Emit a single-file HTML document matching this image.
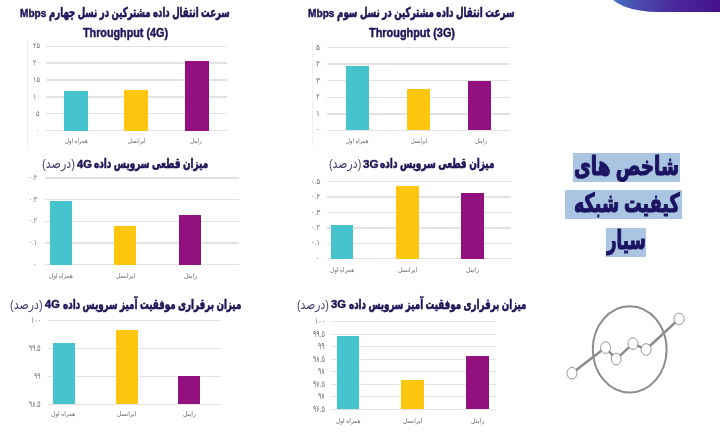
<!DOCTYPE html>
<html lang="fa">
<head>
<meta charset="utf-8">
<title>شاخص های کیفیت شبکه سیار</title>
<style>
html,body{margin:0;padding:0;background:#fff}
body{width:720px;height:439px;position:relative;overflow:hidden;font-family:"Liberation Sans","DejaVu Sans",sans-serif}
.t{position:absolute;white-space:nowrap;line-height:1;transform-origin:0 50%}
</style>
</head>
<body>
<div style="position:absolute;left:609px;top:-30px;width:140px;height:42.3px;border-bottom-left-radius:50px 20px;background:linear-gradient(90deg,#4178c6 0%,#4a4aae 22%,#49279a 48%,#45128a 80%,#440f88 100%)"></div>
<div style="position:absolute;left:46.30px;top:45.50px;width:180.70px;height:1.40px;background:#e2e2e2"></div>
<div style="position:absolute;left:46.30px;top:62.40px;width:180.70px;height:1.40px;background:#e2e2e2"></div>
<div style="position:absolute;left:46.30px;top:79.30px;width:180.70px;height:1.40px;background:#e2e2e2"></div>
<div style="position:absolute;left:46.30px;top:96.20px;width:180.70px;height:1.40px;background:#e2e2e2"></div>
<div style="position:absolute;left:46.30px;top:113.10px;width:180.70px;height:1.40px;background:#e2e2e2"></div>
<div style="position:absolute;left:46.30px;top:130.00px;width:180.70px;height:1.40px;background:#e2e2e2"></div>
<div style="position:absolute;left:64.20px;top:91.00px;width:23.60px;height:39.70px;background:#46c4ce"></div>
<div style="position:absolute;left:124.20px;top:89.50px;width:24.00px;height:41.20px;background:#fec70f"></div>
<div style="position:absolute;left:184.50px;top:60.70px;width:24.00px;height:70.00px;background:#92117e"></div>
<div style="position:absolute;left:27.30px;top:39.00px;width:1.00px;height:111.00px;background:#f0f0f0"></div>
<div style="position:absolute;left:45.00px;top:177.30px;width:193.70px;height:1.40px;background:#e2e2e2"></div>
<div style="position:absolute;left:45.00px;top:199.00px;width:193.70px;height:1.40px;background:#e2e2e2"></div>
<div style="position:absolute;left:45.00px;top:220.70px;width:193.70px;height:1.40px;background:#e2e2e2"></div>
<div style="position:absolute;left:45.00px;top:242.40px;width:193.70px;height:1.40px;background:#e2e2e2"></div>
<div style="position:absolute;left:45.00px;top:264.00px;width:193.70px;height:1.40px;background:#e2e2e2"></div>
<div style="position:absolute;left:49.50px;top:201.20px;width:22.50px;height:63.50px;background:#46c4ce"></div>
<div style="position:absolute;left:113.70px;top:225.50px;width:22.50px;height:39.20px;background:#fec70f"></div>
<div style="position:absolute;left:179.20px;top:215.00px;width:22.30px;height:49.70px;background:#92117e"></div>
<div style="position:absolute;left:47.50px;top:319.60px;width:173.70px;height:1.40px;background:#e2e2e2"></div>
<div style="position:absolute;left:47.50px;top:347.60px;width:173.70px;height:1.40px;background:#e2e2e2"></div>
<div style="position:absolute;left:47.50px;top:375.60px;width:173.70px;height:1.40px;background:#e2e2e2"></div>
<div style="position:absolute;left:47.50px;top:403.60px;width:173.70px;height:1.40px;background:#e2e2e2"></div>
<div style="position:absolute;left:52.50px;top:342.70px;width:22.00px;height:61.60px;background:#46c4ce"></div>
<div style="position:absolute;left:116.00px;top:330.00px;width:21.80px;height:74.30px;background:#fec70f"></div>
<div style="position:absolute;left:178.00px;top:375.70px;width:22.00px;height:28.60px;background:#92117e"></div>
<div style="position:absolute;left:327.00px;top:46.80px;width:183.00px;height:1.40px;background:#e2e2e2"></div>
<div style="position:absolute;left:327.00px;top:63.40px;width:183.00px;height:1.40px;background:#e2e2e2"></div>
<div style="position:absolute;left:327.00px;top:80.00px;width:183.00px;height:1.40px;background:#e2e2e2"></div>
<div style="position:absolute;left:327.00px;top:96.60px;width:183.00px;height:1.40px;background:#e2e2e2"></div>
<div style="position:absolute;left:327.00px;top:113.20px;width:183.00px;height:1.40px;background:#e2e2e2"></div>
<div style="position:absolute;left:327.00px;top:129.70px;width:183.00px;height:1.40px;background:#e2e2e2"></div>
<div style="position:absolute;left:345.70px;top:66.20px;width:23.50px;height:64.20px;background:#46c4ce"></div>
<div style="position:absolute;left:407.00px;top:88.70px;width:23.00px;height:41.70px;background:#fec70f"></div>
<div style="position:absolute;left:468.00px;top:81.30px;width:22.50px;height:49.10px;background:#92117e"></div>
<div style="position:absolute;left:311.50px;top:39.00px;width:1.00px;height:107.00px;background:#f0f0f0"></div>
<div style="position:absolute;left:327.00px;top:181.00px;width:184.00px;height:1.40px;background:#e2e2e2"></div>
<div style="position:absolute;left:327.00px;top:196.40px;width:184.00px;height:1.40px;background:#e2e2e2"></div>
<div style="position:absolute;left:327.00px;top:211.80px;width:184.00px;height:1.40px;background:#e2e2e2"></div>
<div style="position:absolute;left:327.00px;top:227.20px;width:184.00px;height:1.40px;background:#e2e2e2"></div>
<div style="position:absolute;left:327.00px;top:242.60px;width:184.00px;height:1.40px;background:#e2e2e2"></div>
<div style="position:absolute;left:327.00px;top:258.10px;width:184.00px;height:1.40px;background:#e2e2e2"></div>
<div style="position:absolute;left:330.70px;top:225.00px;width:22.50px;height:33.80px;background:#46c4ce"></div>
<div style="position:absolute;left:395.50px;top:186.20px;width:23.20px;height:72.60px;background:#fec70f"></div>
<div style="position:absolute;left:461.20px;top:192.50px;width:22.50px;height:66.30px;background:#92117e"></div>
<div style="position:absolute;left:331.00px;top:321.00px;width:164.70px;height:1.40px;background:#e2e2e2"></div>
<div style="position:absolute;left:331.00px;top:333.50px;width:164.70px;height:1.40px;background:#e2e2e2"></div>
<div style="position:absolute;left:331.00px;top:346.00px;width:164.70px;height:1.40px;background:#e2e2e2"></div>
<div style="position:absolute;left:331.00px;top:358.50px;width:164.70px;height:1.40px;background:#e2e2e2"></div>
<div style="position:absolute;left:331.00px;top:371.00px;width:164.70px;height:1.40px;background:#e2e2e2"></div>
<div style="position:absolute;left:331.00px;top:383.50px;width:164.70px;height:1.40px;background:#e2e2e2"></div>
<div style="position:absolute;left:331.00px;top:396.00px;width:164.70px;height:1.40px;background:#e2e2e2"></div>
<div style="position:absolute;left:331.00px;top:408.50px;width:164.70px;height:1.40px;background:#e2e2e2"></div>
<div style="position:absolute;left:336.70px;top:336.20px;width:22.80px;height:73.00px;background:#46c4ce"></div>
<div style="position:absolute;left:401.20px;top:380.00px;width:23.00px;height:29.20px;background:#fec70f"></div>
<div style="position:absolute;left:466.20px;top:356.20px;width:22.50px;height:53.00px;background:#92117e"></div>
<div style="position:absolute;left:573.40px;top:153.40px;width:106.60px;height:28.30px;background:#a9c5e1"></div>
<div style="position:absolute;left:564.50px;top:190.20px;width:117.70px;height:28.40px;background:#a9c5e1"></div>
<div style="position:absolute;left:606.10px;top:227.80px;width:40.00px;height:28.80px;background:#a9c5e1"></div>
<svg style="position:absolute;left:560px;top:295px" width="140" height="110" viewBox="560 295 140 110" fill="none">
<g stroke="#8c8c8c" stroke-width="2.5" stroke-linecap="round" stroke-linejoin="round">
<polyline points="572,373.2 605.5,347.6 616.2,359.1 633,343.6 646.1,349.5 679.1,318.9"/>
</g>
<ellipse cx="629.7" cy="349.4" rx="36.9" ry="43.1" stroke="#8c8c8c" stroke-width="2"/>
<g stroke="#8a8a8a" stroke-width="0.9" fill="#fff">
<ellipse cx="572" cy="373.2" rx="5" ry="5.8"/>
<ellipse cx="605.5" cy="347.6" rx="5" ry="5.8"/>
<ellipse cx="616.2" cy="359.1" rx="5" ry="5.8"/>
<ellipse cx="633" cy="343.6" rx="5" ry="5.8"/>
<ellipse cx="646.1" cy="349.5" rx="5" ry="5.8"/>
<ellipse cx="679.1" cy="318.9" rx="5" ry="5.8"/>
</g>
</svg>
<div class="t" id="t0" dir="ltr" style="left:33.00px;top:42.40px;font-size:7.6px;font-weight:400;color:#707070;transform:scaleX(0.8566);">۲۵</div>
<div class="t" id="t1" dir="ltr" style="left:33.00px;top:59.30px;font-size:7.6px;font-weight:400;color:#707070;transform:scaleX(0.8566);">۲۰</div>
<div class="t" id="t2" dir="ltr" style="left:33.00px;top:76.20px;font-size:7.6px;font-weight:400;color:#707070;transform:scaleX(0.8566);">۱۵</div>
<div class="t" id="t3" dir="ltr" style="left:33.00px;top:93.10px;font-size:7.6px;font-weight:400;color:#707070;transform:scaleX(0.8566);">۱۰</div>
<div class="t" id="t4" dir="ltr" style="left:36.49px;top:110.00px;font-size:7.6px;font-weight:400;color:#707070;transform:scaleX(0.8566);">۵</div>
<div class="t" id="t5" dir="ltr" style="left:36.49px;top:126.90px;font-size:7.6px;font-weight:400;color:#707070;transform:scaleX(0.8566);">۰</div>
<div class="t" id="t6" dir="rtl" style="left:64.50px;top:138.05px;font-size:6.5px;font-weight:400;color:#6c6c6c;transform:scaleX(0.8373);">همراه اول</div>
<div class="t" id="t7" dir="rtl" style="left:127.50px;top:138.05px;font-size:6.5px;font-weight:400;color:#6c6c6c;transform:scaleX(0.8122);">ایرانسل</div>
<div class="t" id="t8" dir="rtl" style="left:190.20px;top:138.05px;font-size:6.5px;font-weight:400;color:#6c6c6c;transform:scaleX(0.8651);">رایتل</div>
<div class="t" id="t9" dir="rtl" style="left:49.20px;top:6.07px;font-size:13.5px;font-weight:700;color:#1d1758;transform:scaleX(0.6359);-webkit-text-stroke:0.65px #1d1758;">سرعت انتقال داده مشترکین در نسل چهارم</div>
<div class="t" id="t10" dir="ltr" style="left:20.30px;top:8.23px;font-size:10.6px;font-weight:700;color:#1d1758;transform:scaleX(0.9540);-webkit-text-stroke:0.45px #1d1758;">Mbps</div>
<div class="t" id="t11" dir="ltr" style="left:83.00px;top:26.87px;font-size:12.2px;font-weight:700;color:#1d1758;transform:scaleX(0.8843);-webkit-text-stroke:0.45px #1d1758;">Throughput (4G)</div>
<div class="t" id="t12" dir="ltr" style="left:28.60px;top:174.00px;font-size:8px;font-weight:400;color:#707070;transform:scaleX(0.7388);">۰.۴</div>
<div class="t" id="t13" dir="ltr" style="left:28.60px;top:195.70px;font-size:8px;font-weight:400;color:#707070;transform:scaleX(0.7388);">۰.۳</div>
<div class="t" id="t14" dir="ltr" style="left:28.60px;top:217.40px;font-size:8px;font-weight:400;color:#707070;transform:scaleX(0.7388);">۰.۲</div>
<div class="t" id="t15" dir="ltr" style="left:28.60px;top:239.10px;font-size:8px;font-weight:400;color:#707070;transform:scaleX(0.7388);">۰.۱</div>
<div class="t" id="t16" dir="ltr" style="left:33.43px;top:260.70px;font-size:8px;font-weight:400;color:#707070;transform:scaleX(0.7388);">۰</div>
<div class="t" id="t17" dir="rtl" style="left:48.50px;top:272.95px;font-size:6.5px;font-weight:400;color:#6c6c6c;transform:scaleX(0.8737);">همراه اول</div>
<div class="t" id="t18" dir="rtl" style="left:116.00px;top:272.95px;font-size:6.5px;font-weight:400;color:#6c6c6c;transform:scaleX(0.8818);">ایرانسل</div>
<div class="t" id="t19" dir="rtl" style="left:183.70px;top:272.95px;font-size:6.5px;font-weight:400;color:#6c6c6c;transform:scaleX(0.9750);">رایتل</div>
<div class="t" id="t20" dir="rtl" style="left:93.80px;top:157.17px;font-size:13.5px;font-weight:700;color:#1d1758;transform:scaleX(0.6578);-webkit-text-stroke:0.65px #1d1758;">میزان قطعی سرویس داده</div>
<div class="t" id="t21" dir="ltr" style="left:77.20px;top:159.77px;font-size:10.2px;font-weight:700;color:#1d1758;transform:scaleX(1.0887);-webkit-text-stroke:0.45px #1d1758;">4G</div>
<div class="t" id="t22" dir="rtl" style="left:42.00px;top:157.17px;font-size:13.5px;font-weight:400;color:#45426e;transform:scaleX(0.8234);">(درصد)</div>
<div class="t" id="t23" dir="ltr" style="left:30.99px;top:315.80px;font-size:9px;font-weight:400;color:#707070;transform:scaleX(0.6758);">۱۰۰</div>
<div class="t" id="t24" dir="ltr" style="left:29.30px;top:343.80px;font-size:9px;font-weight:400;color:#707070;transform:scaleX(0.6758);">۹۹.۵</div>
<div class="t" id="t25" dir="ltr" style="left:34.26px;top:371.80px;font-size:9px;font-weight:400;color:#707070;transform:scaleX(0.6758);">۹۹</div>
<div class="t" id="t26" dir="ltr" style="left:29.30px;top:399.80px;font-size:9px;font-weight:400;color:#707070;transform:scaleX(0.6758);">۹۸.۵</div>
<div class="t" id="t27" dir="rtl" style="left:51.20px;top:411.05px;font-size:6.5px;font-weight:400;color:#6c6c6c;transform:scaleX(0.8846);">همراه اول</div>
<div class="t" id="t28" dir="rtl" style="left:117.00px;top:411.05px;font-size:6.5px;font-weight:400;color:#6c6c6c;transform:scaleX(0.8911);">ایرانسل</div>
<div class="t" id="t29" dir="rtl" style="left:183.20px;top:411.05px;font-size:6.5px;font-weight:400;color:#6c6c6c;transform:scaleX(0.9530);">رایتل</div>
<div class="t" id="t30" dir="rtl" style="left:62.50px;top:297.67px;font-size:13.5px;font-weight:700;color:#1d1758;transform:scaleX(0.6474);-webkit-text-stroke:0.65px #1d1758;">میزان برقراری موفقیت آمیز سرویس داده</div>
<div class="t" id="t31" dir="ltr" style="left:45.00px;top:300.27px;font-size:10.2px;font-weight:700;color:#1d1758;transform:scaleX(1.0814);-webkit-text-stroke:0.45px #1d1758;">4G</div>
<div class="t" id="t32" dir="rtl" style="left:10.30px;top:297.67px;font-size:13.5px;font-weight:400;color:#45426e;transform:scaleX(0.8159);">(درصد)</div>
<div class="t" id="t33" dir="ltr" style="left:316.30px;top:43.50px;font-size:8px;font-weight:400;color:#707070;transform:scaleX(0.9076);">۵</div>
<div class="t" id="t34" dir="ltr" style="left:316.30px;top:60.10px;font-size:8px;font-weight:400;color:#707070;transform:scaleX(0.9076);">۴</div>
<div class="t" id="t35" dir="ltr" style="left:316.30px;top:76.70px;font-size:8px;font-weight:400;color:#707070;transform:scaleX(0.9076);">۳</div>
<div class="t" id="t36" dir="ltr" style="left:316.30px;top:93.30px;font-size:8px;font-weight:400;color:#707070;transform:scaleX(0.9076);">۲</div>
<div class="t" id="t37" dir="ltr" style="left:316.30px;top:109.90px;font-size:8px;font-weight:400;color:#707070;transform:scaleX(0.9076);">۱</div>
<div class="t" id="t38" dir="ltr" style="left:316.30px;top:126.40px;font-size:8px;font-weight:400;color:#707070;transform:scaleX(0.9076);">۰</div>
<div class="t" id="t39" dir="rtl" style="left:345.50px;top:137.85px;font-size:6.5px;font-weight:400;color:#6c6c6c;transform:scaleX(0.8191);">همراه اول</div>
<div class="t" id="t40" dir="rtl" style="left:410.70px;top:137.85px;font-size:6.5px;font-weight:400;color:#6c6c6c;transform:scaleX(0.7565);">ایرانسل</div>
<div class="t" id="t41" dir="rtl" style="left:474.50px;top:137.85px;font-size:6.5px;font-weight:400;color:#6c6c6c;transform:scaleX(0.8797);">رایتل</div>
<div class="t" id="t42" dir="rtl" style="left:337.00px;top:6.07px;font-size:13.5px;font-weight:700;color:#1d1758;transform:scaleX(0.6465);-webkit-text-stroke:0.65px #1d1758;">سرعت انتقال داده مشترکین در نسل سوم</div>
<div class="t" id="t43" dir="ltr" style="left:308.00px;top:8.23px;font-size:10.6px;font-weight:700;color:#1d1758;transform:scaleX(0.9577);-webkit-text-stroke:0.45px #1d1758;">Mbps</div>
<div class="t" id="t44" dir="ltr" style="left:369.00px;top:26.87px;font-size:12.2px;font-weight:700;color:#1d1758;transform:scaleX(0.8947);-webkit-text-stroke:0.45px #1d1758;">Throughput (3G)</div>
<div class="t" id="t45" dir="ltr" style="left:310.80px;top:177.70px;font-size:8px;font-weight:400;color:#707070;transform:scaleX(0.8312);">۰.۵</div>
<div class="t" id="t46" dir="ltr" style="left:310.80px;top:193.10px;font-size:8px;font-weight:400;color:#707070;transform:scaleX(0.8312);">۰.۴</div>
<div class="t" id="t47" dir="ltr" style="left:310.80px;top:208.50px;font-size:8px;font-weight:400;color:#707070;transform:scaleX(0.8312);">۰.۳</div>
<div class="t" id="t48" dir="ltr" style="left:310.80px;top:223.90px;font-size:8px;font-weight:400;color:#707070;transform:scaleX(0.8312);">۰.۲</div>
<div class="t" id="t49" dir="ltr" style="left:310.80px;top:239.30px;font-size:8px;font-weight:400;color:#707070;transform:scaleX(0.8312);">۰.۱</div>
<div class="t" id="t50" dir="ltr" style="left:316.23px;top:254.80px;font-size:8px;font-weight:400;color:#707070;transform:scaleX(0.8312);">۰</div>
<div class="t" id="t51" dir="rtl" style="left:330.00px;top:267.15px;font-size:6.5px;font-weight:400;color:#6c6c6c;transform:scaleX(0.8810);">همراه اول</div>
<div class="t" id="t52" dir="rtl" style="left:398.00px;top:267.15px;font-size:6.5px;font-weight:400;color:#6c6c6c;transform:scaleX(0.8818);">ایرانسل</div>
<div class="t" id="t53" dir="rtl" style="left:465.70px;top:267.15px;font-size:6.5px;font-weight:400;color:#6c6c6c;transform:scaleX(0.9530);">رایتل</div>
<div class="t" id="t54" dir="rtl" style="left:380.00px;top:157.17px;font-size:13.5px;font-weight:700;color:#1d1758;transform:scaleX(0.6595);-webkit-text-stroke:0.65px #1d1758;">میزان قطعی سرویس داده</div>
<div class="t" id="t55" dir="ltr" style="left:362.50px;top:159.77px;font-size:10.2px;font-weight:700;color:#1d1758;transform:scaleX(1.1402);-webkit-text-stroke:0.45px #1d1758;">3G</div>
<div class="t" id="t56" dir="rtl" style="left:328.70px;top:157.17px;font-size:13.5px;font-weight:400;color:#45426e;transform:scaleX(0.8059);">(درصد)</div>
<div class="t" id="t57" dir="ltr" style="left:314.53px;top:317.20px;font-size:9px;font-weight:400;color:#707070;transform:scaleX(0.6935);">۱۰۰</div>
<div class="t" id="t58" dir="ltr" style="left:312.80px;top:329.70px;font-size:9px;font-weight:400;color:#707070;transform:scaleX(0.6935);">۹۹.۵</div>
<div class="t" id="t59" dir="ltr" style="left:317.89px;top:342.20px;font-size:9px;font-weight:400;color:#707070;transform:scaleX(0.6935);">۹۹</div>
<div class="t" id="t60" dir="ltr" style="left:312.80px;top:354.70px;font-size:9px;font-weight:400;color:#707070;transform:scaleX(0.6935);">۹۸.۵</div>
<div class="t" id="t61" dir="ltr" style="left:317.89px;top:367.20px;font-size:9px;font-weight:400;color:#707070;transform:scaleX(0.6935);">۹۸</div>
<div class="t" id="t62" dir="ltr" style="left:312.80px;top:379.70px;font-size:9px;font-weight:400;color:#707070;transform:scaleX(0.6935);">۹۷.۵</div>
<div class="t" id="t63" dir="ltr" style="left:317.89px;top:392.20px;font-size:9px;font-weight:400;color:#707070;transform:scaleX(0.6935);">۹۷</div>
<div class="t" id="t64" dir="ltr" style="left:312.80px;top:404.70px;font-size:9px;font-weight:400;color:#707070;transform:scaleX(0.6935);">۹۶.۵</div>
<div class="t" id="t65" dir="rtl" style="left:335.50px;top:417.65px;font-size:6.5px;font-weight:400;color:#6c6c6c;transform:scaleX(0.8919);">همراه اول</div>
<div class="t" id="t66" dir="rtl" style="left:403.20px;top:417.65px;font-size:6.5px;font-weight:400;color:#6c6c6c;transform:scaleX(0.8957);">ایرانسل</div>
<div class="t" id="t67" dir="rtl" style="left:471.20px;top:417.65px;font-size:6.5px;font-weight:400;color:#6c6c6c;transform:scaleX(0.9750);">رایتل</div>
<div class="t" id="t68" dir="rtl" style="left:348.50px;top:297.67px;font-size:13.5px;font-weight:700;color:#1d1758;transform:scaleX(0.6445);-webkit-text-stroke:0.65px #1d1758;">میزان برقراری موفقیت آمیز سرویس داده</div>
<div class="t" id="t69" dir="ltr" style="left:331.00px;top:300.27px;font-size:10.2px;font-weight:700;color:#1d1758;transform:scaleX(1.1034);-webkit-text-stroke:0.45px #1d1758;">3G</div>
<div class="t" id="t70" dir="rtl" style="left:296.70px;top:297.67px;font-size:13.5px;font-weight:400;color:#45426e;transform:scaleX(0.7935);">(درصد)</div>
<div class="t" id="t71" dir="rtl" style="left:574.20px;top:152.59px;font-size:26px;font-weight:700;color:#1a1462;transform:scaleX(0.7076);-webkit-text-stroke:1.2px #1a1462;">شاخص های</div>
<div class="t" id="t72" dir="rtl" style="left:573.80px;top:189.59px;font-size:26px;font-weight:700;color:#1a1462;transform:scaleX(0.6731);-webkit-text-stroke:1.2px #1a1462;">کیفیت شبکه</div>
<div class="t" id="t73" dir="rtl" style="left:606.80px;top:227.19px;font-size:26px;font-weight:700;color:#1a1462;transform:scaleX(0.6352);-webkit-text-stroke:1.2px #1a1462;">سیار</div>
</body>
</html>
